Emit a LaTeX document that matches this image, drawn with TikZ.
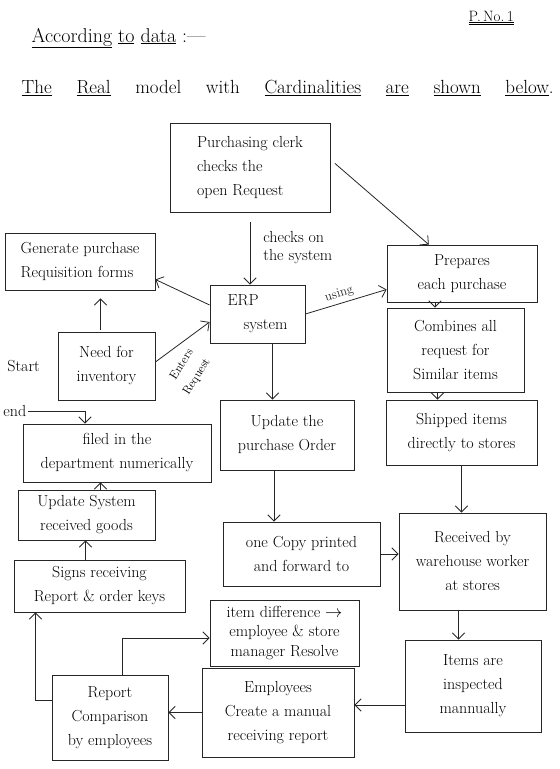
\documentclass[tikz,border=0pt]{standalone}
\usetikzlibrary{positioning, arrows.meta, calc}

\begin{document}
\begin{tikzpicture}[x=1pt, y=-1pt, >={Straight Barb[length=2.2mm]}, thick,
  box/.style n args={2}{draw=black!85, minimum width=#1, minimum height=#2, align=center, inner sep=2pt, font=\fontsize{16}{24}\selectfont},
  lbl/.style={font=\fontsize{16}{18}\selectfont, align=left, inner sep=1pt},
  tilt/.style={font=\fontsize{12}{13}\selectfont, rotate=58, inner sep=0pt},
  link/.style={->, black!85}]
\useasboundingbox (0,0) rectangle (560,769);
% heading
\node[anchor=west, font=\fontsize{20}{22}\selectfont] (head) at (28,38) {\underline{According} \underline{to} \underline{data} :---};
\node[anchor=west, font=\fontsize{15}{17}\selectfont] (pno) at (465,18) {\underline{\underline{P.\,No.\,1}}};
\node[anchor=west, font=\fontsize{19}{21}\selectfont] (intro) at (18,88) {\makebox[532pt][s]{\underline{The} \underline{Real} model with \underline{Cardinalities} \underline{are} \underline{shown} \underline{below}.}};
% boxes
\node[box={160pt}{89pt}, align=left] (pc)    at (250,167.5) {Purchasing clerk\\checks the\\open Request};
\node[box={150pt}{57pt}, align=left] (gen)   at (80,261.5)  {Generate purchase\\Requisition forms};
\node[box={150pt}{57pt}]             (prep)  at (462,273.5) {Prepares\\each purchase};
\node[box={95pt}{58pt}, align=left]  (erp)   at (257.5,314) {ERP\\\quad system};
\node[box={137pt}{84pt}]             (comb)  at (455.5,350) {Combines all\\request for\\Similar items};
\node[box={97pt}{68pt}]              (need)  at (106.5,366) {Need for\\inventory};
\node[box={134pt}{70pt}]             (upo)   at (287,435)   {Update the\\purchase Order};
\node[box={151pt}{65pt}]             (ship)  at (461.5,432.5) {Shipped items\\directly to stores};
\node[box={188pt}{58pt}]             (filed) at (117,453)   {filed in the\\department numerically};
\node[box={137pt}{50pt}]             (upsys) at (86.5,515)  {Update System\\received goods};
\node[box={171pt}{52pt}]             (signs) at (99.5,586)  {Signs receiving\\Report \& order keys};
\node[box={157pt}{64pt}]             (copy)  at (301.5,554) {one Copy printed\\and forward to};
\node[box={147pt}{97pt}]             (recv)  at (472.5,561.5) {Received by\\warehouse worker\\at stores};
\node[box={149pt}{66pt}, font=\fontsize{16}{19.5}\selectfont] (diff) at (284.5,633) {item difference $\rightarrow$\\employee \& store\\manager Resolve};
\node[box={136pt}{92pt}]             (insp)  at (473,686)   {Items are\\inspected\\mannually};
\node[box={152pt}{89pt}]             (emp)   at (278,712.5) {Employees\\Create a manual\\receiving report};
\node[box={116pt}{85pt}]             (rep)   at (110,717.5) {Report\\Comparison\\by employees};
% free labels
\node[lbl, anchor=west] (start) at (6,366) {Start};
\node[lbl, anchor=west] (endl)  at (2,411) {end};
\node[lbl, anchor=west] (chk)   at (262,248) {checks on\\the system};
\node[tilt] (enters) at (181,364) {Enters};
\node[tilt] (reqst)  at (197,377) {Request};
% connectors
\draw[link, shorten <=10pt] (pc.south) -- (pc.south |- erp.north);
\draw[link, shorten <=6pt] ([yshift=8pt]pc.east) -- ($(prep.north west)!0.28!(prep.north east)$);
\draw[link] ([yshift=9pt]erp.west) -- ([yshift=-18pt]gen.east);
\draw[link] (erp.east) -- node[above, sloped, font=\fontsize{13}{14}\selectfont, pos=0.45] {using} ([yshift=-16pt]prep.west);
\draw[link] ([yshift=4pt]need.east) -- ([yshift=-8pt]erp.west);
\draw[link, shorten <=2pt, shorten >=8pt] ([xshift=-6pt]need.north) -- ([xshift=-6pt]need.north |- gen.south);
\draw[link] (endl.east) -| ([xshift=-32pt]filed.north);
\draw[link] ([xshift=15pt]erp.south) -- ([xshift=15pt]erp.south |- upo.north);
\draw[link] ([xshift=-27pt]prep.south) -- ([xshift=-27pt]prep.south |- comb.north);
\draw[link] ([xshift=-18pt]comb.south) -- ([xshift=-18pt]comb.south |- ship.north);
\draw[link] ([xshift=-13pt]upo.south) -- ([xshift=-13pt]upo.south |- copy.north);
\draw[link] ([xshift=0pt]ship.south) -- (ship.south |- recv.north);
\draw[link] (copy.east) -- (copy.east -| recv.west);
\draw[link] ([xshift=-14pt]recv.south) -- ([xshift=-14pt]recv.south |- insp.north);
\draw[link] ([yshift=-19pt]insp.west) -- ([yshift=-19pt]insp.west -| emp.east);
\draw[link] (emp.west) -- (emp.west -| rep.east);
\draw[link] ([yshift=17pt]rep.west) -| ([xshift=-64pt]signs.south);
\draw[link] ([xshift=12pt]rep.north) |- ([yshift=-5pt]diff.west);
\draw[link] ([xshift=-14pt]signs.north) -- ([xshift=-14pt]signs.north |- upsys.south);
\draw[link] ([xshift=14pt]upsys.north) -- ([xshift=14pt]upsys.north |- filed.south);
\end{tikzpicture}
\end{document}
